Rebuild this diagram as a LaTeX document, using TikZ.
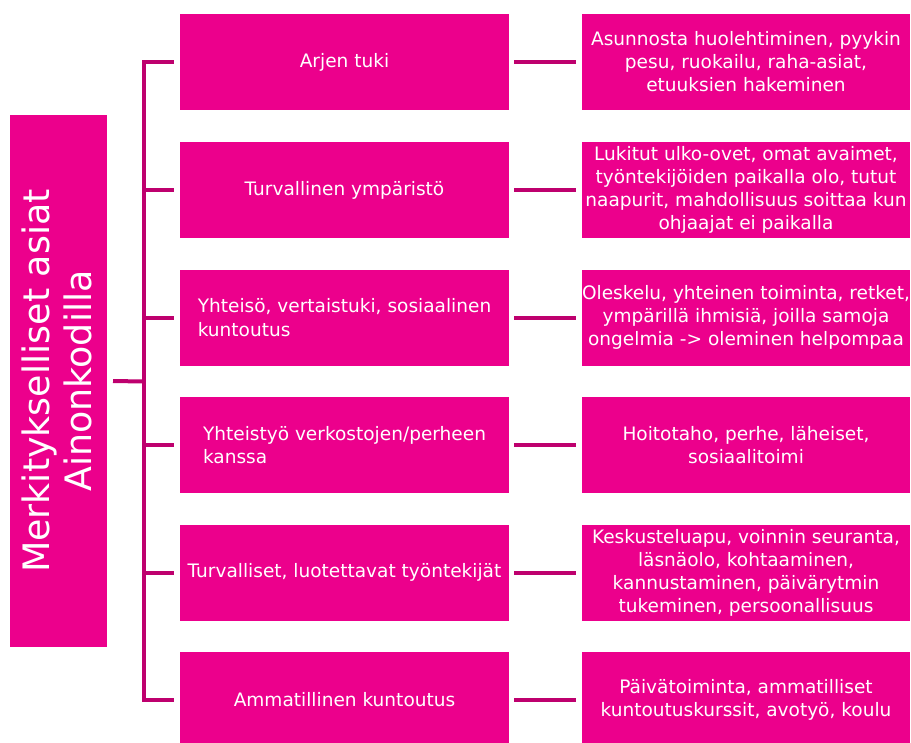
\documentclass[tikz,border=0pt]{standalone}
\usepackage{fontspec}
\setmainfont{DejaVu Sans}
\definecolor{boxpink}{HTML}{EC008C}
\definecolor{linepink}{HTML}{BE006E}
\begin{document}
\begin{tikzpicture}[x=0.75pt,y=-0.75pt,
  box/.style={fill=boxpink, draw=none, text=white, inner sep=0pt},
  midbox/.style={box, minimum width=246.75pt, minimum height=72pt, font=\fontsize{13.9}{17.5}\selectfont},
  rightbox/.style={box, minimum width=246pt, minimum height=72pt, align=center, font=\fontsize{13.9}{17.3}\selectfont},
  conn/.style={draw=linepink, line width=3pt}]
\useasboundingbox (0,0) rectangle (911,743);
\node[box, minimum width=72.4pt, minimum height=399pt] (root) at (58.75,381) {};
\node[text=white, rotate=90, align=center, font=\fontsize{27.3}{31.5}\selectfont] (roottext) at ([xshift=-1.5pt]root.center) {Merkitykselliset asiat\\Ainonkodilla};

\node[midbox, align=center] (m1) at (344.5,62) {Arjen tuki};
\node[midbox, align=center] (m2) at (344.5,190) {Turvallinen ympäristö};
\node[midbox, align=left] (m3) at (344.5,317.5) {Yhteisö, vertaistuki, sosiaalinen\\kuntoutus};
\node[midbox, align=left] (m4) at (344.5,445) {Yhteistyö verkostojen/perheen\\kanssa};
\node[midbox, align=center] (m5) at (344.5,572.5) {Turvalliset, luotettavat työntekijät};
\node[midbox, align=center] (m6) at (344.5,700) {Ammatillinen kuntoutus};

\node[rightbox] (r1) at (746,62) {Asunnosta huolehtiminen, pyykin\\pesu, ruokailu, raha-asiat,\\etuuksien hakeminen};
\node[rightbox] (r2) at (746,190) {Lukitut ulko-ovet, omat avaimet,\\työntekijöiden paikalla olo, tutut\\naapurit, mahdollisuus soittaa kun\\ohjaajat ei paikalla};
\node[rightbox] (r3) at (746,317.5) {Oleskelu, yhteinen toiminta, retket,\\ympärillä ihmisiä, joilla samoja\\ongelmia -{}> oleminen helpompaa};
\node[rightbox] (r4) at (746,445) {Hoitotaho, perhe, läheiset,\\sosiaalitoimi};
\node[rightbox] (r5) at (746,572.5) {Keskusteluapu, voinnin seuranta,\\läsnäolo, kohtaaminen,\\kannustaminen, päivärytmin\\tukeminen, persoonallisuus};
\node[rightbox] (r6) at (746,700) {Päivätoiminta, ammatilliset\\kuntoutuskurssit, avotyö, koulu};

\coordinate (trunk) at (143.5,381.5);
\draw[conn] ([xshift=4.3pt]root.east) -- (trunk);
\draw[conn] ([xshift=-4.5pt]m1.west) -| (trunk) |- ([xshift=-4.5pt]m6.west);
\foreach \i in {2,3,4,5}{
  \draw[conn] (trunk |- m\i.west) -- ([xshift=-4.5pt]m\i.west);
}
\foreach \i in {1,...,6}{
  \draw[conn] ([xshift=3.8pt]m\i.east) -- ([xshift=-4.5pt]r\i.west);
}
\end{tikzpicture}
\end{document}
